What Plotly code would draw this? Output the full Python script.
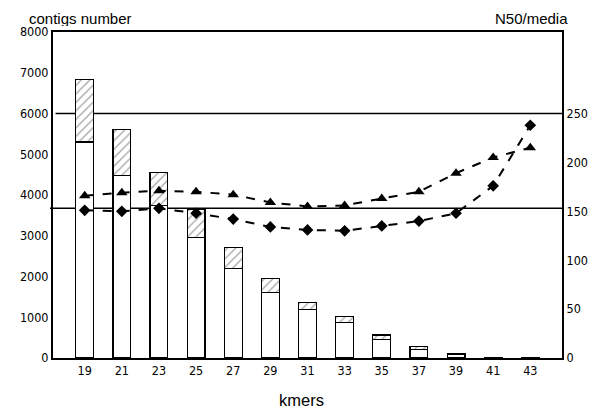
import plotly.graph_objects as go

kmers = ["19", "21", "23", "25", "27", "29", "31", "33", "35", "37", "39", "41", "43"]
contigs_low = [5300, 4470, 3750, 2960, 2200, 1610, 1195, 875, 460, 215, 100, 8, 5]
contigs_total = [6840, 5610, 4560, 3650, 2715, 1945, 1365, 1015, 565, 290, 115, 12, 8]
n50 = [166, 169, 171, 170, 167, 159, 155, 156, 163, 170, 189, 205, 215]
media = [151, 150, 153, 148, 142, 134, 131, 130, 135, 140, 148, 176, 238]

contigs_high = [t - l for t, l in zip(contigs_total, contigs_low)]

TICK_FONT = dict(family="Liberation Sans Narrow, DejaVu Sans Condensed, Arial", size=12.5, color="black")
TITLE_FONT = dict(family="Liberation Sans, Arial", size=16.5, color="black")
TOP_FONT = dict(family="Liberation Sans, Arial", size=15, color="black")

fig = go.Figure()

fig.add_trace(go.Bar(
    x=kmers, y=contigs_low,
    marker=dict(color="white", line=dict(color="black", width=1.2)),
    width=0.48, showlegend=False
))
fig.add_trace(go.Bar(
    x=kmers, y=contigs_high,
    marker=dict(color="white", line=dict(color="black", width=1.2),
                pattern=dict(shape="/", fgcolor="#444444", bgcolor="white", size=6, solidity=0.2)),
    width=0.48, showlegend=False
))

fig.add_trace(go.Scatter(
    x=kmers, y=n50, yaxis="y2", mode="lines+markers",
    line=dict(color="black", width=2, dash="dash"),
    marker=dict(symbol="triangle-up", size=10, color="black"),
    showlegend=False
))
fig.add_trace(go.Scatter(
    x=kmers, y=media, yaxis="y2", mode="lines+markers",
    line=dict(color="black", width=2, dash="dash"),
    marker=dict(symbol="diamond", size=9, color="black"),
    showlegend=False
))

# the two reference lines across the plot
for yv, x0 in [(250, 0.005), (153, -0.006)]:
    fig.add_shape(type="line", xref="paper", yref="y2", x0=x0, x1=1, y0=yv, y1=yv,
                  line=dict(color="black", width=1.5), layer="below")

# page body has an 8px margin, so the figure is sized 8px smaller
fig.update_layout(
    width=592, height=402,
    margin=dict(l=28, r=23, t=24, b=52),
    paper_bgcolor="white", plot_bgcolor="white",
    barmode="stack",
    xaxis=dict(
        type="category", showline=True, linecolor="black", linewidth=2, mirror=True,
        showgrid=False, ticks="", tickfont=TICK_FONT,
    ),
    yaxis=dict(
        range=[0, 8000], dtick=1000, showline=True, linecolor="black", linewidth=2,
        showgrid=False, ticks="", tickfont=TICK_FONT, zeroline=False,
    ),
    yaxis2=dict(
        range=[0, 8000 * 250 / 6000], tickvals=[0, 50, 100, 150, 200, 250],
        overlaying="y", side="right", showline=True, linecolor="black", linewidth=2,
        showgrid=False, ticks="", tickfont=TICK_FONT, zeroline=False,
    ),
    annotations=[
        dict(text="contigs number", xref="paper", yref="paper", x=-0.0518, y=1.0,
             yshift=24, xanchor="left", yanchor="top", height=16, showarrow=False, font=TOP_FONT),
        dict(text="N50/media", xref="paper", yref="paper", x=1.0148, y=1.0,
             yshift=24, xanchor="right", yanchor="top", height=16, showarrow=False, font=TOP_FONT),
        dict(text="kmers", xref="paper", yref="paper", x=0.488, y=0,
             yshift=-42, xanchor="center", yanchor="middle", showarrow=False, font=TITLE_FONT),
    ],
)

fig.write_html("out.html")
